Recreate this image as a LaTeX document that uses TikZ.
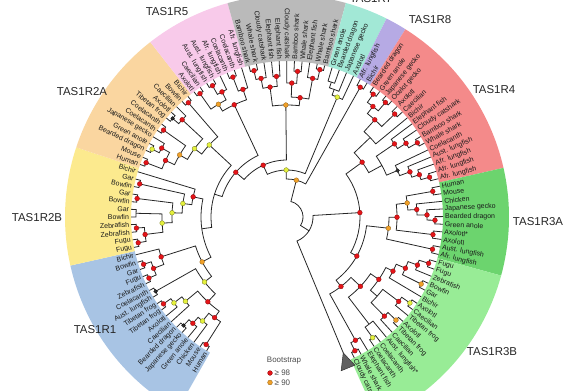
\documentclass[tikz,border=0pt]{standalone}
\usepackage{fontspec}
\setmainfont{Liberation Sans}
\definecolor{cBlue}{RGB}{168,196,228}
\definecolor{cYel}{RGB}{252,234,142}
\definecolor{cOra}{RGB}{250,214,160}
\definecolor{cPink}{RGB}{248,202,234}
\definecolor{cGrey}{RGB}{186,186,186}
\definecolor{cCyan}{RGB}{162,232,214}
\definecolor{cPurp}{RGB}{182,170,228}
\definecolor{cRed}{RGB}{244,138,138}
\definecolor{cDkG}{RGB}{108,212,110}
\definecolor{cLtG}{RGB}{152,236,150}
\definecolor{dRed}{RGB}{228,20,24}
\definecolor{dOra}{RGB}{240,160,40}
\definecolor{dYel}{RGB}{228,240,60}
\definecolor{dBlk}{RGB}{50,50,50}
\pgfdeclarelayer{dots}
\pgfsetlayers{main,dots}
\tikzset{
  branch/.style={line width=0.8bp, draw=black!85},
  leaflab/.style={font=\fontsize{7}{8}\selectfont, text=black!90, inner sep=0.4bp},
  bsdot/.style={circle, inner sep=0pt, minimum size=4.8bp, line width=0.3bp},
  bsR/.style={fill=dRed, draw=dRed!60!black},
  bsO/.style={fill=dOra, draw=dOra!60!black},
  bsY/.style={fill=dYel, draw=dYel!50!black},
  bsK/.style={fill=dBlk, draw=black, minimum size=3.8bp},
  clab/.style={font=\fontsize{11.5}{13}\selectfont, text=black!85, inner sep=0pt},
  legtext/.style={font=\fontsize{8}{9}\selectfont, text=black!70, inner sep=0.5bp},
}
\newcommand\TreeLeaf[3]{%
  \pgfmathsetmacro\tlAng{239-2.81*#2}%
  \expandafter\xdef\csname TA#1\endcsname{\tlAng}%
  \coordinate (#1) at (\tlAng:156);
  \pgfmathtruncatemacro\tlSide{(\tlAng>90)&&(\tlAng<270)}%
  \ifnum\tlSide=1
    \node[leaflab,anchor=east,rotate=\tlAng-180] (#1t) at (\tlAng:157.5) {#3};%
  \else
    \node[leaflab,anchor=west,rotate=\tlAng] (#1t) at (\tlAng:157.5) {#3};%
  \fi
}
\newcommand\TreeNode[5]{%
  \edef\tnA{\csname TA#3\endcsname}\edef\tnB{\csname TA#4\endcsname}%
  \pgfmathsetmacro\tnM{(\tnA+\tnB)/2}%
  \expandafter\xdef\csname TA#1\endcsname{\tnM}%
  \coordinate (#1) at (\tnM:#2);
  \draw[branch] (#3) -- (\tnA:#2) arc[start angle=\tnA, end angle=\tnB, radius=#2] -- (#4);
  \if\relax\detokenize{#5}\relax\else
  \begin{pgfonlayer}{dots}\node[bsdot,#5] (#1d) at (#1) {};\end{pgfonlayer}\fi
}
\newcommand\RingSector[3]{%
  \pgfmathsetmacro\rsA{239-2.81*#1+1.405}%
  \pgfmathsetmacro\rsB{239-2.81*#2-1.405}%
  \fill[#3] (\rsA:156) arc[start angle=\rsA, end angle=\rsB, radius=156]
    -- (\rsB:222) arc[start angle=\rsB, end angle=\rsA, radius=222] -- cycle;
}
\begin{document}
\begin{tikzpicture}[x=1bp,y=1bp]
\useasboundingbox (0,0) rectangle (585,390);
\begin{scope}[shift={(287,173)}]
% colour ranges
\RingSector{0}{16}{cBlue}
\RingSector{17}{27}{cYel}
\RingSector{28}{39}{cOra}
\RingSector{40}{47}{cPink}
\RingSector{48}{58}{cGrey}
\RingSector{59}{62}{cCyan}
\RingSector{63}{64}{cPurp}
\RingSector{65}{80}{cRed}
\RingSector{81}{90}{cDkG}
\RingSector{91}{108}{cLtG}
% leaves
\TreeLeaf{b0}{0}{Human}
\TreeLeaf{b1}{1}{Mouse}
\TreeLeaf{b2}{2}{Chicken}
\TreeLeaf{b3}{3}{Green anole}
\TreeLeaf{b4}{4}{Japanese gecko}
\TreeLeaf{b5}{5}{Bearded dragon}
\TreeLeaf{b6}{6}{Caecilian}
\TreeLeaf{b7}{7}{Axolotl}
\TreeLeaf{b8}{8}{Tibetan frog}
\TreeLeaf{b9}{9}{Tibetan frog}
\TreeLeaf{b10}{10}{Aust. lungfish}
\TreeLeaf{b11}{11}{Coelacanth}
\TreeLeaf{b12}{12}{Zebrafish}
\TreeLeaf{b13}{13}{Fugu}
\TreeLeaf{b14}{14}{Gar}
\TreeLeaf{b15}{15}{Bowfin}
\TreeLeaf{b16}{16}{Bichir}
\TreeLeaf{y0}{17}{Fugu}
\TreeLeaf{y1}{18}{Fugu}
\TreeLeaf{y2}{19}{Zebrafish}
\TreeLeaf{y3}{20}{Zebrafish}
\TreeLeaf{y4}{21}{Bowfin}
\TreeLeaf{y5}{22}{Gar}
\TreeLeaf{y6}{23}{Bowfin}
\TreeLeaf{y7}{24}{Gar}
\TreeLeaf{y8}{25}{Bowfin}
\TreeLeaf{y9}{26}{Gar}
\TreeLeaf{y10}{27}{Bichir}
\TreeLeaf{o0}{28}{Human}
\TreeLeaf{o1}{29}{Mouse}
\TreeLeaf{o2}{30}{Bearded dragon}
\TreeLeaf{o3}{31}{Green anole}
\TreeLeaf{o4}{32}{Japanese gecko}
\TreeLeaf{o5}{33}{Coelacanth}
\TreeLeaf{o6}{34}{Coelacanth}
\TreeLeaf{o7}{35}{Tibetan frog}
\TreeLeaf{o8}{36}{Axolotl}
\TreeLeaf{o9}{37}{Caecilian}
\TreeLeaf{o10}{38}{Bowfin}
\TreeLeaf{o11}{39}{Bichir}
\TreeLeaf{p0}{40}{Axolotl}
\TreeLeaf{p1}{41}{Caecilian}
\TreeLeaf{p2}{42}{Aust. lungfish}
\TreeLeaf{p3}{43}{Aust. lungfish}
\TreeLeaf{p4}{44}{Afr. lungfish}
\TreeLeaf{p5}{45}{Coelacanth}
\TreeLeaf{p6}{46}{Coelacanth}
\TreeLeaf{p7}{47}{Afr. lungfish}
\TreeLeaf{g0}{48}{Bamboo shark}
\TreeLeaf{g1}{49}{Whale shark}
\TreeLeaf{g2}{50}{Cloudy catshark}
\TreeLeaf{g3}{51}{Elephant fish}
\TreeLeaf{g4}{52}{Elephant fish}
\TreeLeaf{g5}{53}{Cloudy catshark}
\TreeLeaf{g6}{54}{Bamboo shark}
\TreeLeaf{g7}{55}{Whale shark}
\TreeLeaf{g8}{56}{Elephant fish}
\TreeLeaf{g9}{57}{Whale shark}
\TreeLeaf{g10}{58}{Bamboo shark}
\TreeLeaf{c0}{59}{Green anole}
\TreeLeaf{c1}{60}{Bearded dragon}
\TreeLeaf{c2}{61}{Japanese gecko}
\TreeLeaf{c3}{62}{Axolotl}
\TreeLeaf{u0}{63}{Afr. lungfish}
\TreeLeaf{u1}{64}{Bichir}
\TreeLeaf{r0}{65}{Bearded dragon}
\TreeLeaf{r1}{66}{Green anole}
\TreeLeaf{r2}{67}{Japanese gecko}
\TreeLeaf{r3}{68}{Ocelot gecko}
\TreeLeaf{r4}{69}{Axolotl}
\TreeLeaf{r5}{70}{Caecilian}
\TreeLeaf{r6}{71}{Bichir}
\TreeLeaf{r7}{72}{Elephant fish}
\TreeLeaf{r8}{73}{Cloudy catshark}
\TreeLeaf{r9}{74}{Bamboo shark}
\TreeLeaf{r10}{75}{Whale shark}
\TreeLeaf{r11}{76}{Coelacanth}
\TreeLeaf{r12}{77}{Aust. lungfish}
\TreeLeaf{r13}{78}{Afr. lungfish}
\TreeLeaf{r14}{79}{Afr. lungfish}
\TreeLeaf{r15}{80}{Afr. lungfish}
\TreeLeaf{d0}{81}{Human}
\TreeLeaf{d1}{82}{Mouse}
\TreeLeaf{d2}{83}{Chicken}
\TreeLeaf{d3}{84}{Japanese gecko}
\TreeLeaf{d4}{85}{Bearded dragon}
\TreeLeaf{d5}{86}{Green anole}
\TreeLeaf{d6}{87}{Axolotl*}
\TreeLeaf{d7}{88}{Axolotl}
\TreeLeaf{d8}{89}{Aust. lungfish}
\TreeLeaf{d9}{90}{Afr. lungfish}
\TreeLeaf{l0}{91}{Fugu}
\TreeLeaf{l1}{92}{Fugu}
\TreeLeaf{l2}{93}{Zebrafish}
\TreeLeaf{l3}{94}{Bowfin}
\TreeLeaf{l4}{95}{Gar}
\TreeLeaf{l5}{96}{Bichir}
\TreeLeaf{l6}{97}{Axolotl}
\TreeLeaf{l7}{98}{Caecilian}
\TreeLeaf{l8}{99}{Tibetan frog}
\TreeLeaf{l9}{100}{Axolotl}
\TreeLeaf{l10}{101}{Tibetan frog}
\TreeLeaf{l11}{102}{Caecilian}
\TreeLeaf{l12}{103}{Aust. lungfish*}
\TreeLeaf{l13}{104}{Coelacanth}
\TreeLeaf{l14}{105}{Coelacanth}
\TreeLeaf{l15}{106}{Elephant fish}
\TreeLeaf{l16}{107}{Whale shark}
\TreeLeaf{l17}{108}{Cloudy catshark}
% TAS1R1
\TreeNode{bHM}{151}{b0}{b1}{bsR}
\TreeNode{bJB}{150}{b4}{b5}{bsK}
\TreeNode{bGJB}{142}{b3}{bJB}{bsR}
\TreeNode{bCs}{134}{b2}{bGJB}{bsY}
\TreeNode{bAmn}{124}{bHM}{bCs}{bsR}
\TreeNode{bTT}{151}{b8}{b9}{bsR}
\TreeNode{bAT}{142}{b7}{bTT}{bsY}
\TreeNode{bAmph}{132}{b6}{bAT}{bsY}
\TreeNode{bTet}{116}{bAmn}{bAmph}{bsR}
\TreeNode{bLC}{151}{b10}{b11}{bsK}
\TreeNode{bSar}{105}{bTet}{bLC}{bsY}
\TreeNode{bZF}{151}{b12}{b13}{bsR}
\TreeNode{bGB}{151}{b14}{b15}{bsR}
\TreeNode{bTH}{143}{bZF}{bGB}{bsR}
\TreeNode{bAct}{132}{bTH}{b16}{bsR}
\TreeNode{bRoot}{96}{bSar}{bAct}{bsO}
% TAS1R2B
\TreeNode{yFF}{151}{y0}{y1}{bsR}
\TreeNode{yZZ}{151}{y2}{y3}{bsR}
\TreeNode{yTel}{143}{yFF}{yZZ}{bsR}
\TreeNode{yBG1}{151}{y4}{y5}{}
\TreeNode{yA}{125}{yTel}{yBG1}{bsY}
\TreeNode{yBG2}{151}{y6}{y7}{bsR}
\TreeNode{yB}{115}{yA}{yBG2}{bsY}
\TreeNode{yBG3}{151}{y8}{y9}{bsR}
\TreeNode{yC}{105}{yB}{yBG3}{bsY}
\TreeNode{yRoot}{96}{yC}{y10}{bsR}
% TAS1R2A
\TreeNode{oHM}{151}{o0}{o1}{bsR}
\TreeNode{oBG}{151}{o2}{o3}{bsY}
\TreeNode{oSq}{143}{oBG}{o4}{bsR}
\TreeNode{oAmn}{134}{oHM}{oSq}{bsR}
\TreeNode{oCC}{151}{o5}{o6}{bsR}
\TreeNode{oAC}{124}{oAmn}{oCC}{bsO}
\TreeNode{oTA}{151}{o7}{o8}{bsK}
\TreeNode{oAmph}{143}{oTA}{o9}{bsR}
\TreeNode{oX}{115}{oAC}{oAmph}{bsY}
\TreeNode{oBB}{151}{o10}{o11}{bsR}
\TreeNode{oRoot}{106}{oX}{oBB}{bsY}
% TAS1R5
\TreeNode{pAC}{151}{p0}{p1}{bsR}
\TreeNode{pAA}{151}{p2}{p3}{bsR}
\TreeNode{pL}{141}{pAA}{p4}{bsR}
\TreeNode{pTL}{132}{pAC}{pL}{bsO}
\TreeNode{pCC}{150}{p5}{p6}{bsR}
\TreeNode{pCA}{135}{pCC}{p7}{bsR}
\TreeNode{pRoot}{124}{pTL}{pCA}{bsR}
% shark group
\TreeNode{gBW}{150}{g0}{g1}{bsR}
\TreeNode{gBWC}{141}{gBW}{g2}{bsR}
\TreeNode{gEE}{141}{g3}{g4}{bsR}
\TreeNode{gA}{131}{gBWC}{gEE}{bsR}
\TreeNode{gBW2}{146}{g6}{g7}{bsR}
\TreeNode{gCBW}{134}{g5}{gBW2}{bsR}
\TreeNode{gWB}{151}{g9}{g10}{bsR}
\TreeNode{gEWB}{141}{g8}{gWB}{bsR}
\TreeNode{gB}{120}{gCBW}{gEWB}{bsR}
\TreeNode{gRoot}{112}{gA}{gB}{bsO}
% TAS1R7
\TreeNode{cGB}{142}{c0}{c1}{}
\TreeNode{cGBJ}{136}{cGB}{c2}{}
\TreeNode{cRoot}{130}{cGBJ}{c3}{bsY}
% TAS1R8
\TreeNode{uRoot}{149}{u0}{u1}{bsR}
% TAS1R4
\TreeNode{rBG}{150}{r0}{r1}{bsR}
\TreeNode{rJO}{151}{r2}{r3}{bsR}
\TreeNode{rSq}{140}{rBG}{rJO}{bsR}
\TreeNode{rAC}{149}{r4}{r5}{bsR}
\TreeNode{rTet}{131}{rSq}{rAC}{bsR}
\TreeNode{rBW}{150}{r9}{r10}{bsR}
\TreeNode{rSh}{140}{r8}{rBW}{bsR}
\TreeNode{rCh}{130}{r7}{rSh}{bsR}
\TreeNode{rAA}{148}{r14}{r15}{bsR}
\TreeNode{rAAA}{139}{r13}{rAA}{bsR}
\TreeNode{rLung}{131}{r12}{rAAA}{bsR}
\TreeNode{rCL}{120}{r11}{rLung}{bsK}
\TreeNode{rTB}{115}{rTet}{r6}{}
\TreeNode{rChCL}{108}{rCh}{rCL}{}
\TreeNode{rRoot}{93}{rTB}{rChCL}{bsR}
% TAS1R3A
\TreeNode{dHM}{148}{d0}{d1}{bsR}
\TreeNode{dBG}{148}{d4}{d5}{bsR}
\TreeNode{dJBG}{140}{d3}{dBG}{bsR}
\TreeNode{dSau}{130}{d2}{dJBG}{bsR}
\TreeNode{dAmn}{121}{dHM}{dSau}{bsO}
\TreeNode{dAA}{147}{d6}{d7}{bsR}
\TreeNode{dTet}{110}{dAmn}{dAA}{bsR}
\TreeNode{dLL}{149}{d8}{d9}{bsR}
\TreeNode{dRoot}{102}{dTet}{dLL}{bsO}
% TAS1R3B
\TreeNode{lFF}{149}{l0}{l1}{bsR}
\TreeNode{lTel}{139}{lFF}{l2}{bsR}
\TreeNode{lBG}{150}{l3}{l4}{bsO}
\TreeNode{lTH}{129}{lTel}{lBG}{bsR}
\TreeNode{lAct}{119}{lTH}{l5}{bsR}
\TreeNode{lAC}{150}{l6}{l7}{bsY}
\TreeNode{lACT}{140}{lAC}{l8}{bsR}
\TreeNode{lAT}{150}{l9}{l10}{bsO}
\TreeNode{lATC}{139}{lAT}{l11}{bsR}
\TreeNode{lAmph}{120}{lACT}{lATC}{}
\TreeNode{lCC}{148}{l13}{l14}{bsY}
\TreeNode{lSar}{135}{l12}{lCC}{}
\TreeNode{lWC}{150}{l16}{l17}{bsR}
\TreeNode{lCh}{141}{l15}{lWC}{bsR}
\TreeNode{lL1}{111}{lAct}{lAmph}{bsR}
\TreeNode{lL2}{101}{lL1}{lSar}{bsR}
\TreeNode{lRoot}{88}{lL2}{lCh}{bsR}
% backbone
\TreeNode{N5}{86}{bRoot}{yRoot}{}
\TreeNode{N4}{76}{oRoot}{N5}{}
\TreeNode{N3}{68}{pRoot}{N4}{bsR}
\TreeNode{N2}{57}{gRoot}{N3}{bsR}
\TreeNode{N1}{47}{cRoot}{N2}{bsY}
\TreeNode{N0}{38}{uRoot}{N1}{bsO}
\TreeNode{G}{80}{dRoot}{lRoot}{bsR}
\TreeNode{R}{73}{rRoot}{G}{bsR}
\coordinate (out) at (-67.5:147);
\expandafter\xdef\csname TAout\endcsname{-67.5}
\TreeNode{Q}{26}{R}{out}{}
\TreeNode{Root}{16}{N0}{Q}{}
\filldraw[fill=black!62, draw=black!80, line width=0.5bp] (out) -- (-70.6:163) -- (-65.4:163) -- cycle;
\end{scope}
% clade labels
\node[clab] (L1) at (95,60) {TAS1R1};
\node[clab] (L2B) at (37,172) {TAS1R2B};
\node[clab] (L2A) at (82,298) {TAS1R2A};
\node[clab] (L5) at (167,378) {TAS1R5};
\node[clab] (L7) at (371,391) {TAS1R7};
\node[clab] (L8) at (430,370) {TAS1R8};
\node[clab] (L4) at (494,300) {TAS1R4};
\node[clab] (L3A) at (538,168) {TAS1R3A};
\node[clab] (L3B) at (492,38) {TAS1R3B};
% legend
\node[legtext] (bs) at (284,29) {Bootstrap};
\node[bsdot,bsR] (lg1) at (270,17) {};
\node[legtext, anchor=west] (lg1t) at (274,17) {≥ 98};
\node[bsdot,bsO] (lg2) at (270,7.5) {};
\node[legtext, anchor=west] (lg2t) at (274,7.5) {≥ 90};
\end{tikzpicture}
\end{document}
